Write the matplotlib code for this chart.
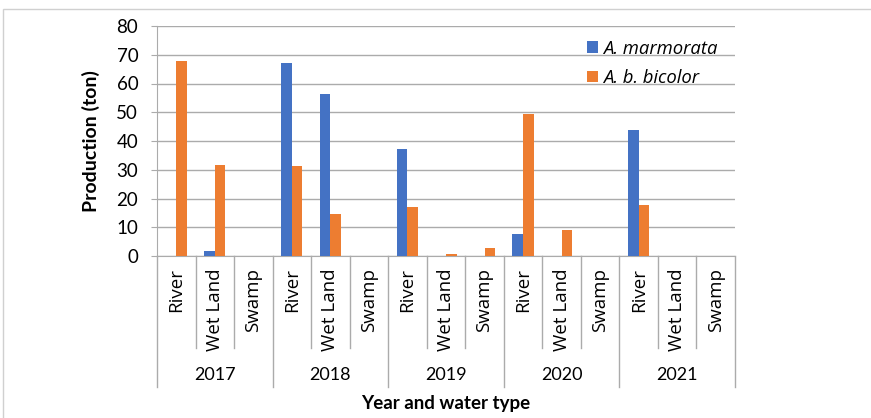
import numpy as np
import matplotlib.pyplot as plt
from matplotlib.patches import Rectangle
from matplotlib.transforms import blended_transform_factory

years = ['2017', '2018', '2019', '2020', '2021']
water_types = ['River', 'Wet Land', 'Swamp']
marmorata = [0, 1.9, 0, 67.3, 56.3, 0, 37.2, 0, 0, 7.5, 0, 0, 43.8, 0, 0]
bicolor = [67.7, 31.6, 0, 31.3, 14.5, 0, 17.2, 0.7, 2.7, 49.5, 8.9, 0, 17.8, 0, 0]

blue = '#4472C4'
orange = '#ED7D31'
grid_col = '#ABABAB'

fig = plt.figure(figsize=(8.71, 4.18), dpi=100)
ax = fig.add_axes([157 / 871, 1 - 256 / 418, 578 / 871, 230 / 418])

# light frame round the chart area
fig.patches.append(Rectangle((3 / 871, -0.1), 1.2, 1 - 9 / 418 + 0.1,
                             transform=fig.transFigure, fill=False,
                             edgecolor='#D0D0D0', linewidth=1))

labels = [w for _ in years for w in water_types]
x = np.arange(len(labels))
w = 0.275
ax.bar(x - w / 2, marmorata, w, color=blue, label='A. marmorata', zorder=3)
ax.bar(x + w / 2, bicolor, w, color=orange, label='A. b. bicolor', zorder=3)

ax.set_xlim(-0.5, len(labels) - 0.5)
ax.set_ylim(0, 80)
ax.set_yticks(range(0, 81, 10))
ax.yaxis.grid(True, color=grid_col, linewidth=1)
ax.set_axisbelow(True)
for s in ['top', 'right']:
    ax.spines[s].set_visible(False)
ax.spines['left'].set_color(grid_col)
ax.spines['bottom'].set_color(grid_col)
ax.tick_params(axis='y', length=4.5, color=grid_col, pad=9, labelsize=13.5)
for t in ax.get_yticklabels():
    t.set_fontfamily('Lato')

ax.set_xticks(x)
ax.set_xticklabels(labels, rotation=90, fontsize=13.5, family='Open Sans')
ax.tick_params(axis='x', length=0, pad=9)

# category separators below the axis
trans = blended_transform_factory(ax.transData, ax.transAxes)
for i in range(len(labels) + 1):
    bx = i - 0.5
    low = -0.571 if i % 3 == 0 else -0.40
    ax.plot([bx, bx], [0, low], color=grid_col, linewidth=1,
            transform=trans, clip_on=False)

for k, yr in enumerate(years):
    ax.text(3 * k + 1, -0.517, yr, transform=trans, ha='center', va='center',
            fontsize=13, family='Lato')

ax.text(0.5, -0.643, 'Year and water type', transform=ax.transAxes,
        ha='center', va='center', fontsize=13.5, fontweight='bold', family='Lato')
ax.set_ylabel('Production (ton)', fontsize=14, fontweight='bold', family='Lato')
ax.yaxis.set_label_coords(-0.099, 0.5)

ax.legend(loc='upper left', bbox_to_anchor=(0.728, 0.98), frameon=False,
          borderpad=0, handlelength=0.6, handleheight=0.6, handletextpad=0.25,
          labelspacing=0.6, prop={'family': 'Open Sans', 'style': 'italic', 'size': 13.3})

fig.savefig('out.png', dpi=100)
